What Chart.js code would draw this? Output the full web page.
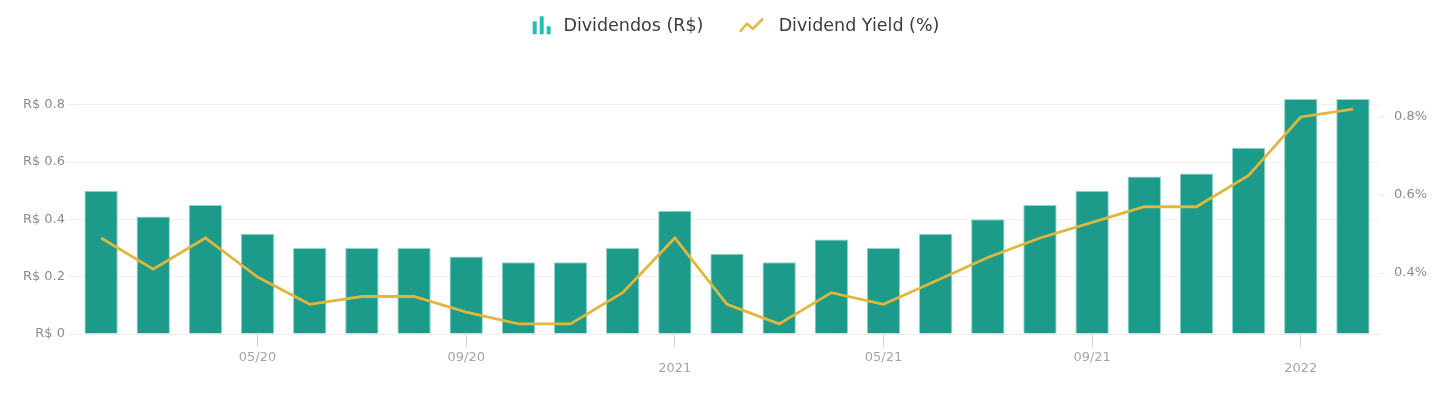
<!DOCTYPE html>
<html>
<head>
<meta charset="utf-8">
<script src="https://cdn.jsdelivr.net/npm/chart.js@4.4.1/dist/chart.umd.min.js"></script>
<style>
  html, body { margin: 0; padding: 0; background: #fff; }
  #wrap { width: 1445px; height: 393px; position: relative; }
</style>
</head>
<body>
<div id="wrap"><canvas id="divChart"></canvas></div>
<script>
// data, one entry per month (02/20 .. 02/22)
const months = [ '02/20', '03/20', '04/20', '05/20', '06/20', '07/20', '08/20', '09/20', '10/20', '11/20', '12/20',
	'01/21', '02/21', '03/21', '04/21', '05/21', '06/21', '07/21', '08/21', '09/21', '10/21', '11/21', '12/21',
	'01/22', '02/22' ];
const dividends = [ 0.50, 0.41, 0.45, 0.35, 0.30, 0.30, 0.30, 0.27, 0.25, 0.25, 0.30, 0.43, 0.28, 0.25, 0.33, 0.30,
	0.35, 0.40, 0.45, 0.50, 0.55, 0.56, 0.65, 0.82, 0.82 ];
const yields = [ 0.49, 0.41, 0.49, 0.39, 0.32, 0.34, 0.34, 0.30, 0.27, 0.27, 0.35, 0.49, 0.32, 0.27, 0.35, 0.32,
	0.38, 0.44, 0.49, 0.53, 0.57, 0.57, 0.65, 0.80, 0.82 ];

// tick labels
const xTickLabels = { '05/20': '05/20', '09/20': '09/20', '01/21': '2021', '05/21': '05/21', '09/21': '09/21', '01/22': '2022' };
const yearTicks = [ '2021', '2022' ];
const leftTicks = [ 0, 0.2, 0.4, 0.6, 0.8 ];
const rightTicks = [ 0.4, 0.6, 0.8 ];

const FONT = "'DejaVu Sans', sans-serif";
const barColor = '#1c9a8a';
const lineColor = '#dfb73c';

const isYear = (i) => yearTicks.includes(xTickLabels[months[i]]);

// legend icons
function barIcon() {
	const c = document.createElement('canvas');
	c.width = 49;
	c.height = 24;
	const g = c.getContext('2d');
	g.fillStyle = '#22bfb5';
	g.fillRect(27, 7, 4, 13);
	g.fillRect(34, 2, 4, 18);
	g.fillRect(41, 12, 4, 8);
	return c;
}

function lineIcon() {
	const c = document.createElement('canvas');
	c.width = 49;
	c.height = 24;
	const g = c.getContext('2d');
	g.strokeStyle = lineColor;
	g.lineWidth = 2.6;
	g.lineJoin = 'round';
	g.beginPath();
	g.moveTo(19, 17.5);
	g.lineTo(26, 9.5);
	g.lineTo(32, 14.5);
	g.lineTo(42, 4.5);
	g.stroke();
	return c;
}

const icons = [ barIcon(), lineIcon() ];

const legendHeight = {
	id: 'legendHeight',
	beforeInit(chart) {
		const fit = chart.legend.fit;
		chart.legend.fit = function() {
			fit.bind(chart.legend)();
			this.height = 99;
		};
	}
};

const ctx = document.getElementById('divChart').getContext('2d');

const divChart = new Chart(ctx, {
	type: 'bar',
	data: {
		labels: months,
		datasets: [
			{
				type: 'bar',
				label: 'Dividendos (R$)',
				data: dividends,
				yAxisID: 'y',
				backgroundColor: barColor,
				borderColor: '#93d4cb',
				borderWidth: 1,
				borderSkipped: 'bottom',
				barPercentage: 0.64,
				categoryPercentage: 1,
				order: 2
			},
			{
				type: 'line',
				label: 'Dividend Yield (%)',
				data: yields,
				yAxisID: 'y1',
				borderColor: lineColor,
				borderWidth: 2.8,
				pointRadius: 0,
				tension: 0,
				fill: false,
				order: 1
			}
		]
	},
	options: {
		responsive: true,
		maintainAspectRatio: false,
		animation: false,
		layout: { padding: 0 },
		plugins: {
			tooltip: { enabled: false },
			legend: {
				position: 'top',
				labels: {
					usePointStyle: true,
					pointStyleWidth: 49,
					padding: 17.5,
					color: '#373d3f',
					font: { family: FONT, size: 17.5 },
					sort: (a, b) => a.datasetIndex - b.datasetIndex,
					generateLabels(chart) {
						return chart.data.datasets.map((ds, i) => ({
							text: ds.label,
							datasetIndex: i,
							pointStyle: icons[i],
							fillStyle: 'transparent',
							strokeStyle: 'transparent',
							lineWidth: 0,
							fontColor: '#373d3f'
						}));
					}
				}
			}
		},
		scales: {
			x: {
				grid: {
					offset: false,
					drawOnChartArea: false,
					tickLength: 18,
					tickColor: '#cfcfcf',
					color: '#cfcfcf',
					tickBorderDash: (c) => (isYear(c.index) ? [ 18, 100 ] : [ 12, 100 ])
				},
				border: { display: true, color: '#ececec' },
				ticks: {
					autoSkip: false,
					maxRotation: 0,
					padding: 0,
					callback: function(value, index) {
						const t = xTickLabels[months[index]];
						if (!t) return null;
						return isYear(index) ? [ '', t ] : t;
					},
					color: (c) => (isYear(c.index) ? '#7a7a7a' : '#a5a5a5'),
					font: { family: FONT, size: 13, lineHeight: '11px' }
				},
				afterFit: (scale) => {
					scale.height = 59;
				}
			},
			y: {
				position: 'left',
				min: 0,
				max: 0.82,
				afterBuildTicks: (scale) => {
					scale.ticks = leftTicks.map((v) => ({ value: v }));
				},
				grid: {
					color: '#f1f1f1',
					tickLength: 7,
					tickColor: '#ececec'
				},
				border: { display: false },
				ticks: {
					padding: 3,
					color: '#8c8c8c',
					font: { family: FONT, size: 13 },
					callback: (v) => 'R$ ' + v
				},
				afterFit: (scale) => {
					scale.width = 75;
				}
			},
			y1: {
				position: 'right',
				min: 0.244,
				max: 0.846,
				afterBuildTicks: (scale) => {
					scale.ticks = rightTicks.map((v) => ({ value: v }));
				},
				grid: {
					drawOnChartArea: false,
					tickLength: 6,
					tickColor: '#ececec'
				},
				border: { display: false },
				ticks: {
					padding: 9,
					color: '#8c8c8c',
					font: { family: FONT, size: 13 },
					callback: (v) => v.toFixed(1) + '%'
				},
				afterFit: (scale) => {
					scale.width = 66;
				}
			}
		}
	},
	plugins: [ legendHeight ]
});
</script>
</body>
</html>
